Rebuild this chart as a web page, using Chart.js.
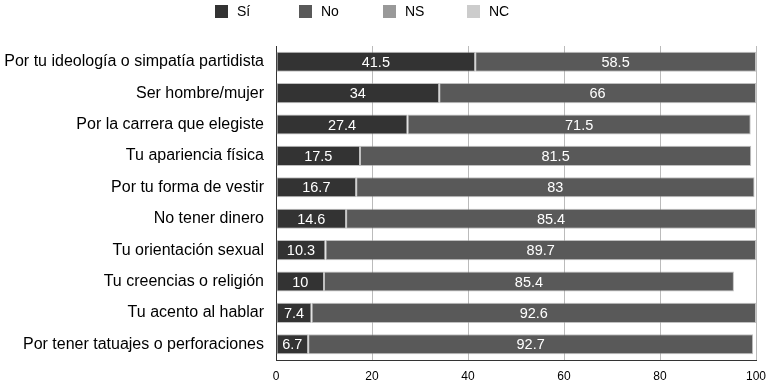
<!DOCTYPE html>
<html>
<head>
<meta charset="utf-8">
<script src="https://cdn.jsdelivr.net/npm/chart.js@4/dist/chart.umd.min.js"></script>
<style>
  html, body { margin: 0; padding: 0; background: #fff; }
  #wrap { width: 770px; height: 383px; }
</style>
</head>
<body>
<div id="wrap"><canvas id="chart"></canvas></div>
<script>
// categorías (eje y)
const categories = [
    'Por tu ideología o simpatía partidista',
    'Ser hombre/mujer',
    'Por la carrera que elegiste',
    'Tu apariencia física',
    'Por tu forma de vestir',
    'No tener dinero',
    'Tu orientación sexual',
    'Tu creencias o religión',
    'Tu acento al hablar',
    'Por tener tatuajes o perforaciones'
];

// series
const seriesNames = ['Sí', 'No', 'NS', 'NC'];
const siValues = [41.5, 34, 27.4, 17.5, 16.7, 14.6, 10.3, 10, 7.4, 6.7];
const noValues = [58.5, 66, 71.5, 81.5, 83, 85.4, 89.7, 85.4, 92.6, 92.7];
const nsValues = [0, 0, 0, 0, 0, 0, 0, 0, 0, 0];
const ncValues = [0, 0, 0, 0, 0, 0, 0, 0, 0, 0];

// eje x
const xTicks = [0, 20, 40, 60, 80, 100];

const colors = ['#333333', '#595959', '#999999', '#cccccc'];
const FONT = '"Liberation Sans", Arial, sans-serif';

// etiquetas blancas dentro de cada segmento
const barLabels = {
    id: 'barLabels',
    afterDatasetsDraw(chart) {
        const ctx = chart.ctx;
        ctx.save();
        ctx.font = '14.5px ' + FONT;
        ctx.fillStyle = '#ffffff';
        ctx.textAlign = 'center';
        ctx.textBaseline = 'middle';
        chart.data.datasets.forEach((ds, i) => {
            const meta = chart.getDatasetMeta(i);
            meta.data.forEach((bar, j) => {
                const v = ds.data[j];
                if (!v) return;
                const x = (bar.x + bar.base) / 2;
                ctx.fillText(String(v), x, bar.y + 1);
            });
        });
        ctx.restore();
    }
};

// leyenda dibujada arriba (cuadros + texto)
const topLegend = {
    id: 'topLegend',
    afterDraw(chart) {
        const ctx = chart.ctx;
        ctx.save();
        ctx.font = '14px ' + FONT;
        ctx.textBaseline = 'middle';
        ctx.textAlign = 'left';
        chart.data.datasets.forEach((ds, i) => {
            const x = 215 + i * 84;
            ctx.fillStyle = ds.backgroundColor;
            ctx.fillRect(x, 5, 13, 13);
            ctx.fillStyle = '#000';
            ctx.fillText(ds.label, x + 22, 12);
        });
        ctx.restore();
    }
};

const allValues = [siValues, noValues, nsValues, ncValues];

new Chart(document.getElementById('chart'), {
    type: 'bar',
    data: {
        labels: categories,
        datasets: seriesNames.map((name, i) => ({
            label: name,
            data: allValues[i],
            backgroundColor: colors[i],
            borderColor: 'rgba(150,150,150,0.6)',
            borderWidth: 1,
            borderSkipped: false,
            categoryPercentage: 1,
            barPercentage: 0.64
        }))
    },
    options: {
        indexAxis: 'y',
        responsive: true,
        maintainAspectRatio: false,
        animation: false,
        layout: { padding: { left: 0, right: 14, top: 46, bottom: 0 } },
        plugins: {
            legend: { display: false },
            tooltip: { enabled: false }
        },
        scales: {
            x: {
                stacked: true,
                min: 0,
                max: 100,
                afterBuildTicks(axis) {
                    axis.ticks = xTicks.map(v => ({ value: v }));
                },
                afterFit(axis) {
                    axis.height = 23;
                    axis.paddingLeft = 0;
                    axis.paddingRight = 0;
                },
                grid: { color: '#bbbbbb', drawTicks: false },
                border: { color: '#333333' },
                ticks: {
                    color: '#000',
                    padding: 9,
                    font: { size: 12, family: FONT }
                }
            },
            y: {
                stacked: true,
                afterFit(axis) {
                    axis.width = 276;
                    axis.paddingTop = 0;
                    axis.paddingBottom = 0;
                },
                grid: { display: false, drawTicks: false },
                border: { color: '#333333' },
                ticks: {
                    color: '#000',
                    padding: 12,
                    font: { size: 16, family: FONT }
                }
            }
        }
    },
    plugins: [barLabels, topLegend]
});
</script>
</body>
</html>
